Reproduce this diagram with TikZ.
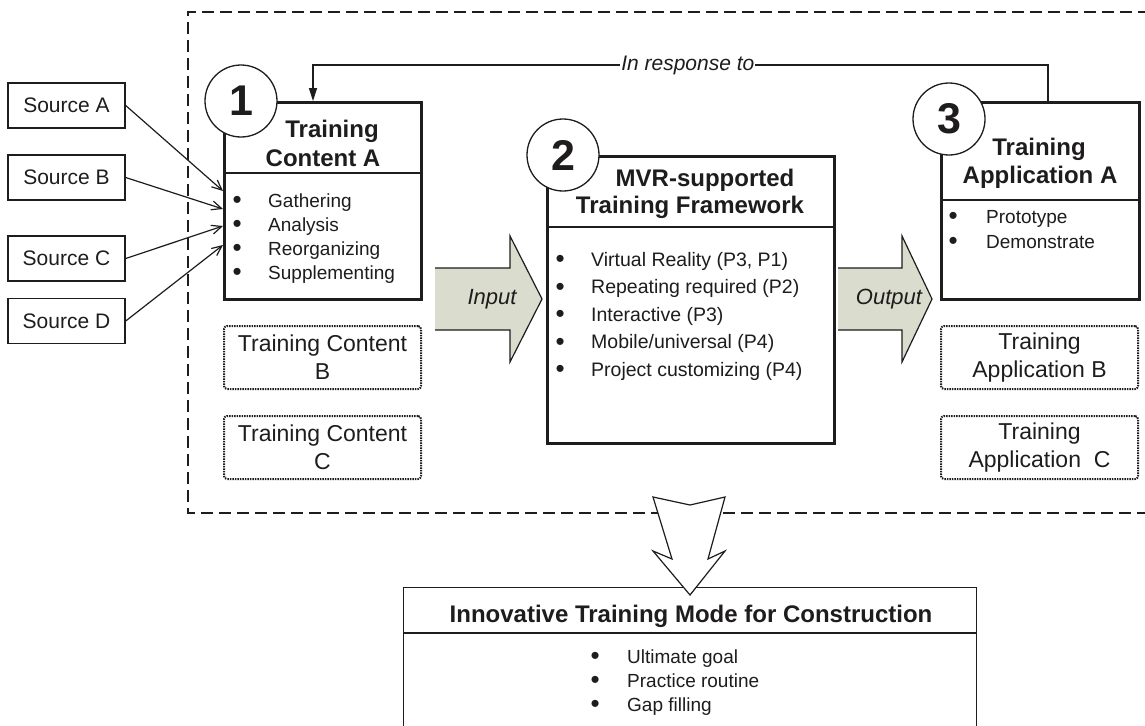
\documentclass[tikz,border=0pt]{standalone}
\usepackage{fontspec}
\setmainfont{Liberation Sans}
\usetikzlibrary{arrows.meta}
\definecolor{ink}{RGB}{30,28,28}
\definecolor{arrfill}{RGB}{218,220,206}
\newcommand{\myfs}[2]{\fontsize{#1}{#2}\selectfont}
\newcommand{\bigdot}{\makebox[0pt]{\raisebox{-1.8pt}{\myfs{26}{24}\textbullet}}}
\begin{document}
\begin{tikzpicture}[x=1pt,y=-1pt,
  every node/.style={text=ink},
  frame/.style={draw=ink, line width=2.3pt, dash pattern=on 12pt off 6pt},
  mainbox/.style={draw=ink, line width=2.6pt, inner sep=0pt, anchor=north west, fill=white},
  botbox/.style={draw=ink, line width=1.4pt, inner sep=0pt, anchor=north west, fill=white},
  sepline/.style={draw=ink, line width=1.3pt},
  srcbox/.style={draw=ink, line width=1.4pt, inner sep=0pt, minimum width=117pt, minimum height=45pt, font=\myfs{21}{24}},
  dotbox/.style={draw=ink, line width=2pt, dash pattern=on 1.5pt off 1pt, rounded corners=3pt, anchor=north west, inner sep=0pt, minimum width=197pt, minimum height=63pt, align=center, font=\myfs{23}{28}},
  numcirc/.style={circle, draw=ink, line width=1.3pt, fill=white, minimum size=72pt, inner sep=0pt, font=\bfseries\myfs{43}{43}},
  ttl/.style={anchor=base, inner sep=0pt, font=\bfseries\myfs{24}{28}},
  bul/.style={anchor=base west, inner sep=0pt, font=\myfs{19}{24}},
  bulb/.style={anchor=base west, inner sep=0pt, font=\myfs{19.5}{24}},
  srcarrow/.style={draw=ink, line width=1.2pt, -{Straight Barb[length=10pt,width=9pt,line width=1.2pt]}},
  bigarrow/.style={fill=arrfill},
  bigarrowline/.style={draw=ink, line width=1.2pt, line join=miter},
  arrlabel/.style={font=\itshape\myfs{22}{24}, inner sep=0pt}
]
\useasboundingbox (0,0) rectangle (1145,725);

% dashed frame
\draw[frame] (1150,12) -- (188,12) -- (188,513) -- (1150,513);

% sources
\node[srcbox] (sA) at (66.5,105.5) {Source A};
\node[srcbox] (sB) at (66.5,177.5) {Source B};
\node[srcbox] (sC) at (66.5,258.5) {Source C};
\node[srcbox] (sD) at (66.5,321) {Source D};

% box 1
\node[mainbox, minimum width=197pt, minimum height=197pt] (b1) at (223,101) {};
\coordinate (s1) at (223,173);
\draw[sepline] (s1) -- (s1 -| b1.east);
\node[ttl] (t1a) at (332,137) {Training};
\node[ttl] (t1b) at (323,166) {Content A};
\foreach \t [count=\i] in {Gathering, Analysis, Reorganizing, Supplementing}
  \node[bul] (l1-\i) at (237,{207+24*(\i-1)}) {\bigdot\hspace{31pt}\t};

% source arrows
\coordinate (e1) at (223,191);
\coordinate (e2) at (223,209);
\coordinate (e3) at (223,226);
\coordinate (e4) at (223,245);
\draw[srcarrow] (sA.east) -- (e1);
\draw[srcarrow] (sB.east) -- (e2);
\draw[srcarrow] (sC.east) -- (e3);
\draw[srcarrow] (sD.east) -- (e4);

% dotted content boxes
\node[dotbox] (cB) at (223,325) {Training Content\\B};
\node[dotbox] (cC) at (223,415) {Training Content\\C};

% box 2
\node[mainbox, minimum width=287pt, minimum height=287pt] (b2) at (546,155) {};
\coordinate (s2) at (546,227);
\draw[sepline] (s2) -- (s2 -| b2.east);
\node[ttl] (t2a) at (705,186) {MVR-supported};
\node[ttl] (t2b) at (690,213) {Training Framework};
\foreach \t [count=\i] in {{Virtual Reality (P3, P1)}, {Repeating required (P2)}, {Interactive (P3)}, {Mobile/universal (P4)}, {Project customizing (P4)}}
  \node[bulb] (l2-\i) at (560,{266+27.5*(\i-1)}) {\bigdot\hspace{31pt}\t};

% box 3
\node[mainbox, minimum width=198pt, minimum height=197pt] (b3) at (940,101) {};
\coordinate (s3) at (940,200);
\draw[sepline] (s3) -- (s3 -| b3.east);
\node[ttl] (t3a) at (1039,155) {Training};
\node[ttl] (t3b) at (1040,183) {Application A};
\foreach \t [count=\i] in {Prototype, Demonstrate}
  \node[bul] (l3-\i) at (953,{223+25*(\i-1)}) {\bigdot\hspace{33pt}\t};

% dotted application boxes
\node[dotbox] (aB) at (940,325) {Training\\Application B};
\node[dotbox] (aC) at (940,415) {Training\\Application\ \ C};

% number circles
\node[numcirc] (c1) at (241,101) {1};
\node[numcirc] (c2) at (563,155) {2};
\node[numcirc] (c3) at (949,119) {3};

% feedback connector
\coordinate (fbR) at (1048,65);
\coordinate (fbL) at (313,65);
\draw[draw=ink, line width=1.2pt, -{Triangle[length=13pt,width=8pt]}]
  (b3.north -| fbR) -- (fbR) -- node[pos=0.49, fill=white, inner sep=1pt, font=\itshape\myfs{21}{24}] (resp) {In response to} (fbL) -- (fbL |- b1.north);

% input arrow
\fill[bigarrow] (435,268) -- (510,268) -- (510,236) -- (542,299) -- (510,362) -- (510,330) -- (435,330) -- cycle;
\draw[bigarrowline] (435,268) -- (510,268) -- (510,236) -- (542,299) -- (510,362) -- (510,330) -- (435,330);
\node[arrlabel] (inp) at (492,299) {Input};

% output arrow
\fill[bigarrow] (838,268) -- (902,268) -- (902,236) -- (932,299) -- (902,362) -- (902,330) -- (838,330) -- cycle;
\draw[bigarrowline] (838,268) -- (902,268) -- (902,236) -- (932,299) -- (902,362) -- (902,330) -- (838,330);
\node[arrlabel] (outp) at (889,299) {Output};

% bottom box
\node[botbox, minimum width=573pt, minimum height=200pt] (b4) at (403,587) {};
\coordinate (s4) at (403,633);
\draw[sepline] (s4) -- (s4 -| b4.east);
\node[ttl] (t4) at (691,622) {Innovative Training Mode for Construction};
\foreach \t [count=\i] in {Ultimate goal, Practice routine, Gap filling}
  \node[bul] (l4-\i) at (595,{663+24*(\i-1)}) {\bigdot\hspace{32pt}\t};

% big down arrow
\draw[fill=white, draw=ink, line width=1.2pt, line join=miter]
  (653,497) -- (690,505) -- (725,497) -- (708,559) -- (725,551) -- (690,595) -- (653,551) -- (672,559) -- cycle;
\end{tikzpicture}
\end{document}
